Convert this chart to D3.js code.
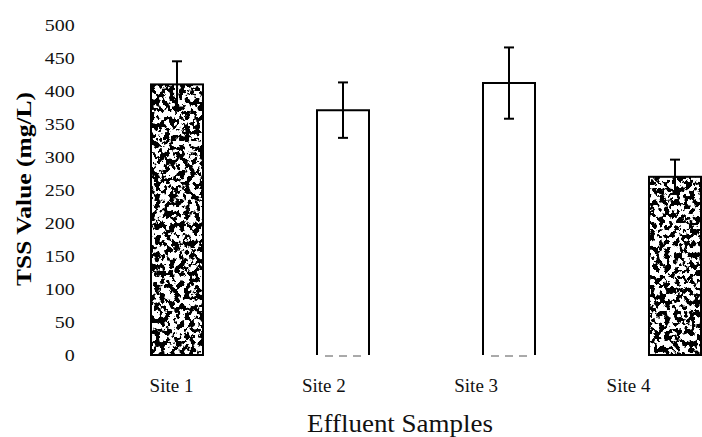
<!DOCTYPE html>
<html>
<head>
<meta charset="utf-8">
<script src="https://cdn.jsdelivr.net/npm/d3@7/dist/d3.min.js"></script>
<style>
  html, body { margin: 0; padding: 0; background: #fff; }
  svg { display: block; }
</style>
</head>
<body>
<svg id="chart" width="702" height="437"></svg>
<script>
// Total suspended solids per effluent site, mean with error
const sites = ["Site 1", "Site 2", "Site 3", "Site 4"];
const tssValues = [410, 371, 412, 270];
const tssErrors = [35, 42, 54, 26];
const patterned = [true, false, false, true];
const yTicks = [0, 50, 100, 150, 200, 250, 300, 350, 400, 450, 500];
const yTitle = "TSS Value (mg/L)";
const xTitle = "Effluent Samples";

const svg = d3.select("#chart");
const serif = "'Liberation Serif', 'Times New Roman', serif";

const y = d3.scaleLinear().domain([0, 500]).range([355, 25]);
const xBar = d3.scalePoint().domain(sites).range([177, 675]);
const xLabel = d3.scalePoint().domain(sites).range([171, 628]);
const barW = 52;

// speckled halftone texture used for the filled bars
const defs = svg.append("defs");
const f = defs.append("filter").attr("id", "speckle")
  .attr("x", 0).attr("y", 0).attr("width", 1).attr("height", 1)
  .attr("color-interpolation-filters", "sRGB");
f.append("feTurbulence").attr("type", "fractalNoise")
  .attr("baseFrequency", "0.2 0.17").attr("numOctaves", 3).attr("seed", 7).attr("result", "n");
f.append("feColorMatrix").attr("in", "n").attr("type", "matrix")
  .attr("values", "0 0 0 0 0  0 0 0 0 0  0 0 0 0 0  24 0 0 0 -11.7").attr("result", "dots");
f.append("feFlood").attr("flood-color", "#fff").attr("result", "bg");
const m = f.append("feMerge");
m.append("feMergeNode").attr("in", "bg");
m.append("feMergeNode").attr("in", "dots");

const bars = svg.append("g").attr("class", "bars");
sites.forEach((s, i) => {
  const x0 = xBar(s) - barW / 2;
  const x1 = x0 + barW;
  const yTop = y(tssValues[i]);
  const yBase = y(0);
  if (patterned[i]) {
    bars.append("rect").attr("x", x0).attr("y", yTop).attr("width", barW).attr("height", yBase - yTop)
      .attr("fill", "#fff").attr("filter", "url(#speckle)");
    bars.append("rect").attr("x", x0).attr("y", yTop).attr("width", barW).attr("height", yBase - yTop)
      .attr("fill", "none").attr("stroke", "#000").attr("stroke-width", 2);
  } else {
    // open bars: sides and top, with a faint broken base
    bars.append("path")
      .attr("d", `M${x0},${yBase}V${yTop}H${x1}V${yBase}`)
      .attr("fill", "none").attr("stroke", "#000").attr("stroke-width", 2);
    bars.append("line").attr("x1", x0 + 8).attr("x2", x1 - 6).attr("y1", yBase + 1).attr("y2", yBase + 1)
      .attr("stroke", "#555").attr("stroke-width", 1).attr("stroke-dasharray", "8 6");
  }
});

// error bars
const err = svg.append("g").attr("class", "errors").attr("stroke", "#000").attr("stroke-width", 2);
sites.forEach((s, i) => {
  const cx = xBar(s);
  const hi = y(tssValues[i] + tssErrors[i]);
  const lo = y(tssValues[i] - tssErrors[i]);
  err.append("line").attr("x1", cx).attr("x2", cx).attr("y1", hi).attr("y2", lo);
  err.append("line").attr("x1", cx - 5).attr("x2", cx + 5).attr("y1", hi).attr("y2", hi);
  err.append("line").attr("x1", cx - 5).attr("x2", cx + 5).attr("y1", lo).attr("y2", lo);
});

// y axis: labels only, no line (glyphs widened slightly)
const yAxis = svg.append("g").attr("transform", "translate(76,0) scale(1.25,1)")
  .call(d3.axisLeft(y).tickValues(yTicks).tickSize(0).tickPadding(1));
yAxis.select(".domain").remove();
yAxis.selectAll("text")
  .attr("font-family", serif).attr("font-size", 16).attr("fill", "#111");

// x axis: category labels, no line
const xAxis = svg.append("g").attr("transform", "translate(0,378)")
  .call(d3.axisBottom(xLabel).tickSize(0).tickPadding(0));
xAxis.select(".domain").remove();
xAxis.selectAll("text")
  .attr("font-family", serif).attr("font-size", 19).attr("fill", "#111").attr("dy", "0.71em");

svg.append("text")
  .attr("transform", "translate(31,189) rotate(-90)")
  .attr("text-anchor", "middle")
  .attr("font-family", serif)
  .attr("font-weight", "bold").attr("font-size", 21).attr("fill", "#000")
  .attr("textLength", 194).attr("lengthAdjust", "spacingAndGlyphs")
  .text(yTitle);

svg.append("text")
  .attr("x", 400).attr("y", 432)
  .attr("text-anchor", "middle")
  .attr("font-family", serif)
  .attr("font-size", 25).attr("fill", "#111")
  .attr("textLength", 186).attr("lengthAdjust", "spacingAndGlyphs")
  .text(xTitle);
</script>
</body>
</html>
